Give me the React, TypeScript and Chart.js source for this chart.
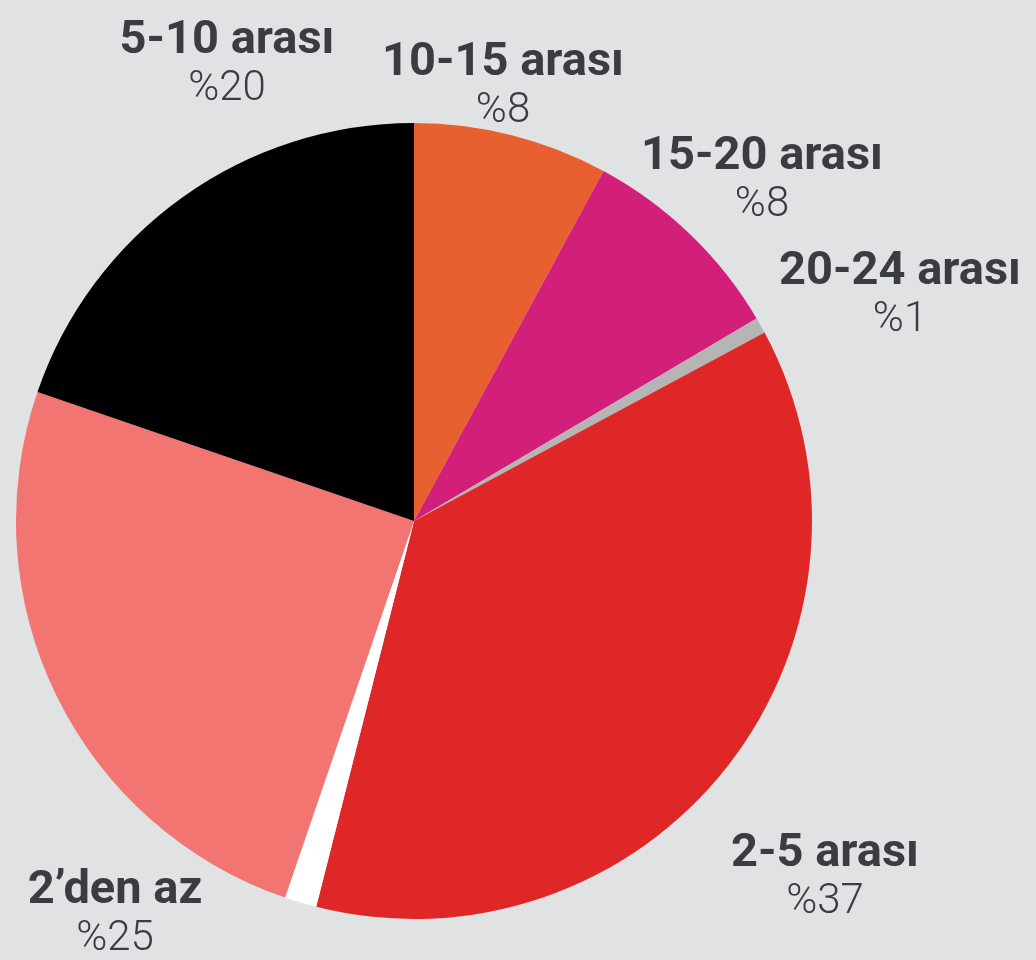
import React, { useEffect, useRef } from "react";
import { Chart, registerables } from "chart.js";

Chart.register(...registerables);

const categories = ["10-15 arası", "15-20 arası", "20-24 arası", "2-5 arası", "", "2'den az", "5-10 arası"];
const shareValues = [7.9, 8.6, 0.65, 36.8, 1.3, 25.0, 19.75];
const percentLabels = ["%8", "%8", "%1", "%37", "", "%25", "%20"];
const sliceColors = ["#E8602F", "#D11F7A", "#B5B5B5", "#E02727", "#FFFFFF", "#F37572", "#000000"];
const titleLabels = ["10-15 arası", "15-20 arası", "20-24 arası", "2-5 arası", "", "2\u2019den az", "5-10 arası"];

// label anchor offsets (title baseline) relative to the pie centre, in px
const labelOffsets: [number, number][] = [
  [89, -446],
  [348, -352],
  [486, -237],
  [411, 345],
  [0, 0],
  [-299, 382],
  [-187, -468],
];

const BG = "#E1E2E4";
const TEXT = "#3A3D40";

const labelPlugin = {
  id: "outerLabels",
  afterDraw(chart: any) {
    const arc = chart.getDatasetMeta(0).data[0];
    if (!arc) return;
    const cx = arc.x;
    const cy = arc.y;
    const ctx = chart.ctx;
    ctx.save();
    ctx.fillStyle = TEXT;
    ctx.textAlign = "center";
    ctx.textBaseline = "alphabetic";
    titleLabels.forEach((t, i) => {
      if (!t) return;
      const [dx, dy] = labelOffsets[i];
      ctx.font = "700 47px Roboto";
      ctx.fillText(t, cx + dx, cy + dy);
      ctx.font = "300 42px Roboto";
      ctx.fillText(percentLabels[i], cx + dx, cy + dy + 47);
    });
    ctx.restore();
  },
};

export default function App() {
  const ref = useRef<HTMLCanvasElement>(null);
  useEffect(() => {
    if (!ref.current) return;
    const chart = new Chart(ref.current, {
      type: "pie",
      data: {
        labels: categories,
        datasets: [
          {
            data: shareValues,
            backgroundColor: sliceColors,
            borderWidth: 0,
          },
        ],
      },
      options: {
        responsive: false,
        animation: false,
        layout: { padding: { left: 16, right: 224, top: 123, bottom: 41 } },
        plugins: {
          legend: { display: false },
          tooltip: { enabled: false },
        },
      },
      plugins: [labelPlugin],
    });
    return () => chart.destroy();
  }, []);
  return (
    <div style={{ position: "fixed", left: 0, top: 0, width: 1036, height: 960, background: BG }}>
      <canvas ref={ref} width={1036} height={960} style={{ display: "block" }} />
    </div>
  );
}
